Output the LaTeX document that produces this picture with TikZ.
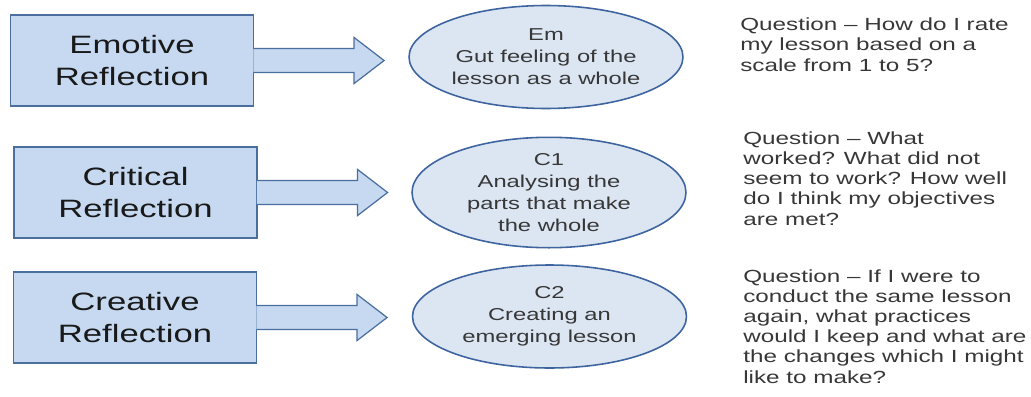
\documentclass[tikz,border=0pt]{standalone}
\usepackage{fontspec}
\setmainfont{Liberation Sans}[FakeStretch=1.38]
\usepackage{tikz}
\usetikzlibrary{positioning, shapes.geometric, calc}

\definecolor{boxblue}{RGB}{198,217,241}
\definecolor{boxline}{RGB}{74,110,158}
\definecolor{ellblue}{RGB}{220,230,243}
\definecolor{ellline}{RGB}{62,100,160}
\definecolor{textgray}{RGB}{55,55,55}

% block arrow from a box to a tip coordinate
\newcommand{\blockarrow}[2]{%
  \path[arrowbody] ($(#1.east)+(-0.6,-12)$) -- ($(#2)+(-30,-12)$) -- ($(#2)+(-30,-23)$)
    -- (#2) -- ($(#2)+(-30,23)$) -- ($(#2)+(-30,12)$) -- ($(#1.east)+(-0.6,12)$);
}

\begin{document}
\begin{tikzpicture}[x=0.02cm, y=-0.02cm,
  refbox/.style={rectangle, draw=boxline, line width=0.7pt, fill=boxblue,
    minimum width=4.86cm, minimum height=1.82cm, align=center,
    font=\fontsize{14.3}{18}\selectfont, text=black!90},
  arrowbody/.style={draw=boxline, line width=0.7pt, fill=boxblue, line join=miter},
  stage/.style={ellipse, draw=ellline, line width=0.9pt, fill=ellblue, inner sep=0pt,
    minimum width=5.48cm, minimum height=2.06cm, align=center,
    font=\fontsize{9.8}{12.5}\selectfont, text=textgray},
  question/.style={anchor=base west, inner sep=0pt, align=left,
    font=\fontsize{10}{11.4}\selectfont, text=textgray}]
  \useasboundingbox (0,0) rectangle (1031,396);

  % Emotive row
  \node[refbox] (emo) at (132,60.5) {Emotive\\Reflection};
  \coordinate (emotip) at ($(emo.east)+(130,0)$);
  \blockarrow{emo}{emotip}
  \node[stage] (em) at (546,57) {Em\\Gut feeling of the\\lesson as a whole};
  % base anchor sits on the last line
  \node[question] (qem) at (740,71) {Question -- How do I rate\\my lesson based on a\\scale from 1 to 5?};

  % Critical row
  \node[refbox] (cri) at (135.5,192.5) {Critical\\Reflection};
  \coordinate (critip) at ($(cri.east)+(130,0)$);
  \blockarrow{cri}{critip}
  \node[stage] (cone) at (549,192.5) {C1\\Analysing the\\parts that make\\the whole};
  \node[question] (qcone) at (743,225) {Question -- What\\worked? What did not\\seem to work? How well\\do I think my objectives\\are met?};

  % Creative row
  \node[refbox] (cre) at (135,317.5) {Creative\\Reflection};
  \coordinate (cretip) at ($(cre.east)+(130,0)$);
  \blockarrow{cre}{cretip}
  \node[stage] (ctwo) at (549.5,316.5) {C2\\Creating an\\emerging lesson};
  \node[question] (qctwo) at (743,383) {Question -- If I were to\\conduct the same lesson\\again, what practices\\would I keep and what are\\the changes which I might\\like to make?};
\end{tikzpicture}
\end{document}
